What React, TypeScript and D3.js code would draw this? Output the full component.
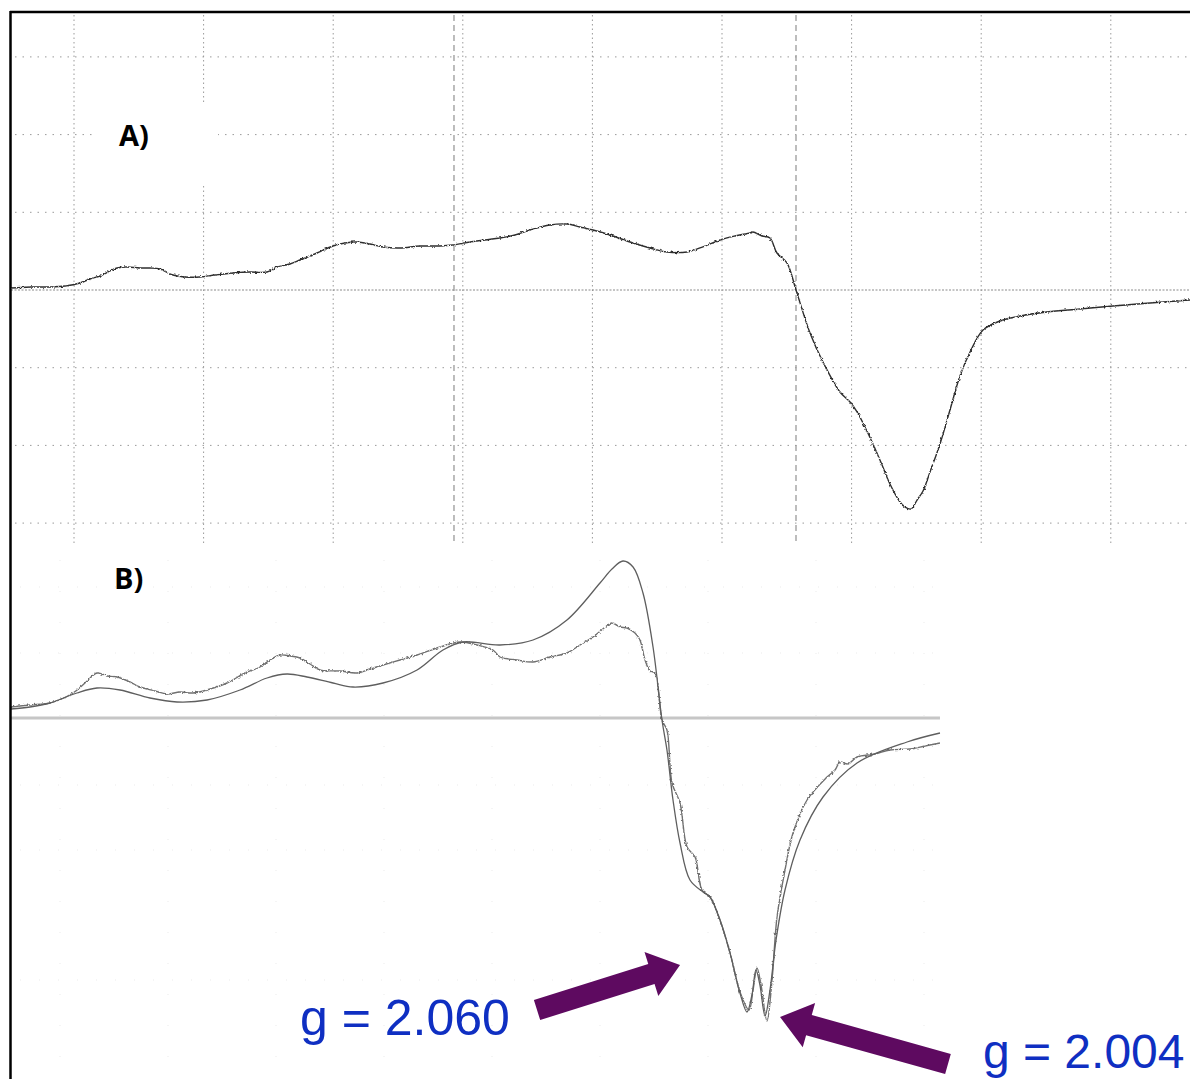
import React from 'react';
import * as d3 from 'd3';

const W = 1190;
const H = 1079;

// Panel A: grid divisions (x: field divisions, y: signal divisions)
const gridXA = [0, 1, 2, 3, 4, 5, 6, 7, 8];
const gridYA = [-3, -2, -1, 1, 2, 3];
const markerXA = [2.932, 5.571];

const traceA: [number, number][] = [
  [-0.486, 0.026], [-0.34, 0.039], [-0.185, 0.039], [-0.069, 0.051], [0.046, 0.09], [0.123, 0.142],
  [0.201, 0.18], [0.278, 0.245], [0.332, 0.283], [0.409, 0.296], [0.509, 0.283], [0.586, 0.283],
  [0.664, 0.27], [0.764, 0.193], [0.856, 0.167], [0.972, 0.167], [1.088, 0.193], [1.227, 0.219],
  [1.358, 0.232], [1.489, 0.232], [1.566, 0.296], [1.667, 0.335], [1.744, 0.386], [1.875, 0.476],
  [1.998, 0.566], [2.091, 0.605], [2.184, 0.618], [2.284, 0.592], [2.384, 0.553], [2.515, 0.541],
  [2.67, 0.566], [2.824, 0.566], [2.924, 0.579], [3.056, 0.618], [3.171, 0.644], [3.287, 0.669],
  [3.403, 0.708], [3.519, 0.772], [3.673, 0.837], [3.804, 0.849], [3.904, 0.811], [4.005, 0.772],
  [4.136, 0.708], [4.313, 0.605], [4.444, 0.541], [4.576, 0.489], [4.73, 0.489], [4.83, 0.541],
  [4.985, 0.644], [5.1, 0.695], [5.216, 0.734], [5.239, 0.746], [5.309, 0.695], [5.37, 0.669],
  [5.424, 0.476], [5.502, 0.347], [5.571, 0.0], [5.679, -0.553], [5.779, -0.927], [5.91, -1.313],
  [5.988, -1.441], [6.042, -1.57], [6.103, -1.763], [6.165, -1.982], [6.235, -2.252], [6.296, -2.497],
  [6.373, -2.728], [6.412, -2.793], [6.458, -2.819], [6.505, -2.703], [6.551, -2.587], [6.605, -2.342],
  [6.682, -1.982], [6.759, -1.544], [6.836, -1.107], [6.914, -0.798], [7.014, -0.515], [7.145, -0.399],
  [7.299, -0.335], [7.508, -0.283], [7.762, -0.245], [8.017, -0.206], [8.302, -0.167], [8.611, -0.129],
];

// Panel B: faint grid
const gridXB = [0, 1, 2, 3, 4, 5, 6, 7, 8];
const gridYB = [1.31, 0.65, -0.67, -1.32, -2.62];

// Panel B: simulated (smooth) spectrum
const simB: [number, number][] = [
  [-0.454, 0.09], [-0.278, 0.11], [-0.093, 0.15], [0.157, 0.25], [0.343, 0.3], [0.556, 0.28],
  [0.833, 0.2], [1.083, 0.16], [1.361, 0.18], [1.667, 0.28], [1.917, 0.4], [2.102, 0.44],
  [2.287, 0.41], [2.528, 0.35], [2.713, 0.31], [2.991, 0.35], [3.306, 0.48], [3.546, 0.68],
  [3.731, 0.76], [4.074, 0.73], [4.38, 0.78], [4.694, 0.98], [5.0, 1.35], [5.111, 1.49],
  [5.213, 1.57], [5.306, 1.51], [5.398, 1.25], [5.491, 0.71], [5.574, -0.02], [5.62, -0.32],
  [5.676, -0.82], [5.741, -1.25], [5.833, -1.62], [5.954, -1.74], [6.019, -1.79], [6.111, -2.02],
  [6.204, -2.35], [6.296, -2.75], [6.361, -2.94], [6.407, -2.77], [6.444, -2.52], [6.481, -2.67],
  [6.528, -2.98], [6.574, -2.72], [6.63, -2.22], [6.713, -1.72], [6.852, -1.22], [7.065, -0.79],
  [7.38, -0.45], [7.843, -0.24], [8.148, -0.15],
];

// Panel B: experimental (noisy) spectrum
const expB: [number, number][] = [
  [-0.454, 0.11], [-0.278, 0.13], [-0.093, 0.15], [0.12, 0.25], [0.231, 0.35], [0.343, 0.45],
  [0.435, 0.42], [0.528, 0.41], [0.648, 0.36], [0.741, 0.31], [0.88, 0.27], [0.991, 0.24],
  [1.111, 0.26], [1.231, 0.25], [1.389, 0.29], [1.546, 0.35], [1.713, 0.45], [1.852, 0.51],
  [1.944, 0.58], [2.037, 0.63], [2.13, 0.62], [2.222, 0.6], [2.315, 0.54], [2.407, 0.48],
  [2.593, 0.47], [2.75, 0.45], [2.87, 0.49], [2.991, 0.53], [3.148, 0.58], [3.306, 0.63],
  [3.519, 0.71], [3.704, 0.76], [3.861, 0.73], [4.009, 0.68], [4.074, 0.61], [4.231, 0.58],
  [4.38, 0.56], [4.537, 0.61], [4.694, 0.65], [4.815, 0.73], [4.935, 0.81], [5.037, 0.9],
  [5.111, 0.95], [5.185, 0.91], [5.25, 0.9], [5.324, 0.85], [5.37, 0.78], [5.417, 0.58],
  [5.463, 0.47], [5.509, 0.45], [5.574, -0.02], [5.62, -0.12], [5.667, -0.65], [5.741, -0.85],
  [5.806, -1.29], [5.88, -1.39], [5.944, -1.72], [6.019, -1.79], [6.111, -2.02], [6.204, -2.35],
  [6.296, -2.74], [6.38, -2.92], [6.417, -2.72], [6.454, -2.5], [6.491, -2.67], [6.546, -3.03],
  [6.593, -2.62], [6.639, -1.99], [6.713, -1.52], [6.787, -1.15], [6.917, -0.82], [7.102, -0.59],
  [7.176, -0.52], [7.222, -0.44], [7.296, -0.46], [7.38, -0.39], [7.546, -0.36], [7.685, -0.32],
  [7.87, -0.31], [8.009, -0.28], [8.148, -0.25],
];

const gLabels = [
  { text: 'g = 2.060', x: 2.222, y: -3.17 },
  { text: 'g = 2.004', x: 8.546, y: -3.50 },
];
const gArrows = [
  { from: [4.417, -2.92], to: [5.741, -2.47] },
  { from: [8.222, -3.46], to: [6.667, -2.99] },
];

function arrowPath(sx: number, sy: number, tx: number, ty: number, sw: number, hw: number, hl: number) {
  const dx = tx - sx, dy = ty - sy;
  const L = Math.hypot(dx, dy);
  const ux = dx / L, uy = dy / L;
  const nx = -uy, ny = ux;
  const bx = tx - ux * hl, by = ty - uy * hl;
  const p = [
    [sx + nx * sw / 2, sy + ny * sw / 2],
    [bx + nx * sw / 2, by + ny * sw / 2],
    [bx + nx * hw / 2, by + ny * hw / 2],
    [tx, ty],
    [bx - nx * hw / 2, by - ny * hw / 2],
    [bx - nx * sw / 2, by - ny * sw / 2],
    [sx - nx * sw / 2, sy - ny * sw / 2],
  ];
  return 'M' + p.map((q) => q.join(',')).join('L') + 'Z';
}

export default function App() {
  const xA = d3.scaleLinear().domain([0, 8]).range([74, 1110.8]);
  const yA = d3.scaleLinear().domain([-3, 3]).range([523.1, 56.9]);
  const xB = d3.scaleLinear().domain([0, 1]).range([60, 168]);
  const yB = d3.scaleLinear().domain([-1, 1]).range([818, 618]);

  const lineA = d3.line<[number, number]>().x((d) => xA(d[0])).y((d) => yA(d[1])).curve(d3.curveCatmullRom.alpha(0.5));
  const lineB = d3.line<[number, number]>().x((d) => xB(d[0])).y((d) => yB(d[1])).curve(d3.curveCatmullRom.alpha(0.5));

  const aLeft = 11, aRight = 1190, aTop = 13, aBottom = 545;
  const bRight = xB(8.148);

  return (
    <svg width={W} height={H} style={{ position: 'absolute', left: 0, top: 0, background: '#fff' }}>
      <defs>
        <filter id="jit" x="-2%" y="-10%" width="104%" height="120%">
          <feTurbulence type="fractalNoise" baseFrequency="0.45" numOctaves="2" seed="4" result="n" />
          <feDisplacementMap in="SourceGraphic" in2="n" scale="3" xChannelSelector="R" yChannelSelector="G" />
        </filter>
      </defs>
      <rect x={0} y={0} width={W} height={H} fill="#fff" />

      {/* Panel A grid */}
      <g>
        {gridXA.map((v) => (
          <line key={'vx' + v} x1={xA(v)} x2={xA(v)} y1={aTop + 2} y2={aBottom} stroke="#9a9a9a" strokeWidth={1} strokeDasharray="1.5,3" />
        ))}
        {markerXA.map((v) => (
          <line key={'mx' + v} x1={xA(v)} x2={xA(v)} y1={aTop + 2} y2={aBottom} stroke="#9a9a9a" strokeWidth={1.3} strokeDasharray="6,4" />
        ))}
        {gridYA.map((v) => (
          <line key={'hy' + v} x1={aLeft + 4} x2={aRight} y1={yA(v)} y2={yA(v)} stroke="#9a9a9a" strokeWidth={1} strokeDasharray="1.5,6" />
        ))}
        <line x1={aLeft} x2={aRight} y1={yA(0)} y2={yA(0)} stroke="#8a8a8a" strokeWidth={1} strokeDasharray="2,1.5" />
        <rect x={97} y={103} width={121} height={82} fill="#fff" />
      </g>

      {/* Panel A trace */}
      <path d={lineA(traceA) || ''} fill="none" stroke="#2e2e2e" strokeWidth={1.4} filter="url(#jit)" />

      {/* Panel B faint grid */}
      <g opacity={0.5}>
        {gridXB.map((v) => (
          <line key={'bx' + v} x1={xB(v)} x2={xB(v)} y1={560} y2={1079} stroke="#d8d8d8" strokeWidth={1} strokeDasharray="1,30" />
        ))}
        {gridYB.map((v) => (
          <line key={'by' + v} x1={20} x2={bRight} y1={yB(v)} y2={yB(v)} stroke="#d8d8d8" strokeWidth={1} strokeDasharray="1,18" />
        ))}
      </g>

      {/* Panel B baseline */}
      <line x1={aLeft} x2={bRight} y1={yB(0)} y2={yB(0)} stroke="#c6c6c6" strokeWidth={3} />

      {/* Panel B traces */}
      <path d={lineB(expB) || ''} fill="none" stroke="#707070" strokeWidth={1.4} filter="url(#jit)" />
      <path d={lineB(simB) || ''} fill="none" stroke="#5e5e5e" strokeWidth={1.3} />

      {/* Arrows */}
      {gArrows.map((a, i) => (
        <path key={'ar' + i} d={arrowPath(xB(a.from[0]), yB(a.from[1]), xB(a.to[0]), yB(a.to[1]), 21, 46, 30)} fill="#5e0a60" />
      ))}

      {/* g labels */}
      {gLabels.map((l, i) => (
        <text key={'gl' + i} x={xB(l.x)} y={yB(l.y)} fontFamily="'Liberation Sans', Arial, sans-serif" fontSize={i === 1 ? 48 : 50} fill="#0f2fc2">
          {l.text}
        </text>
      ))}

      {/* Panel labels */}
      <text x={119} y={146} fontFamily="'Open Sans', Lato, sans-serif" fontWeight={700} fontSize={29} fill="#000">A)</text>
      <text x={114} y={589} fontFamily="'Open Sans', Lato, sans-serif" fontWeight={700} fontSize={29} fill="#000">B)</text>

      {/* Frame */}
      <line x1={10} x2={W} y1={12} y2={12} stroke="#000" strokeWidth={2.5} />
      <line x1={10.5} x2={10.5} y1={11} y2={H} stroke="#000" strokeWidth={2.5} />
    </svg>
  );
}
